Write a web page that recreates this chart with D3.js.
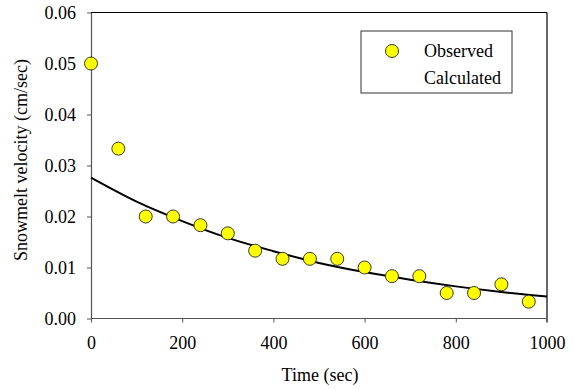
<!DOCTYPE html>
<html>
<head>
<meta charset="utf-8">
<script src="https://cdn.jsdelivr.net/npm/d3@7"></script>
<style>
  html, body { margin: 0; padding: 0; background: #fff; }
  svg text { font-family: "Liberation Serif", "Times New Roman", Times, serif !important; }
</style>
</head>
<body>
<svg id="chart" width="578" height="390"></svg>
<script>
// Observed snowmelt velocity (cm/sec) at each time step (sec)
const obsTime = [0, 60, 120, 180, 240, 300, 360, 420, 480, 540, 600, 660, 720, 780, 840, 900, 960];
const obsVelocity = [0.0500, 0.0333, 0.0200, 0.0200, 0.0183, 0.0167, 0.0133, 0.0117, 0.0117, 0.0117,
                     0.0100, 0.0083, 0.0083, 0.0050, 0.0050, 0.0067, 0.0033];

// Calculated velocity curve
const calcTime = [0, 100, 200, 300, 400, 500, 600, 700, 800, 900, 1000];
const calcVelocity = [0.0276, 0.0229, 0.0191, 0.0158, 0.0132, 0.0109, 0.0091, 0.0076, 0.0063, 0.0052, 0.0043];

const xTicks = [0, 200, 400, 600, 800, 1000];
const yTicks = [0.00, 0.01, 0.02, 0.03, 0.04, 0.05, 0.06];
const legendLabels = ["Observed", "Calculated"];

const svg = d3.select("#chart");
const plotL = 91, plotR = 547, plotT = 12.5, plotB = 318.5;

const x = d3.scaleLinear().domain([0, 1000]).range([plotL, plotR]);
const y = d3.scaleLinear().domain([0, 0.06]).range([plotB, plotT]);

// frame: top and right edges in black
svg.append("line").attr("x1", plotL).attr("x2", plotR).attr("y1", plotT).attr("y2", plotT)
  .attr("stroke", "#000").attr("stroke-width", 1.2);
svg.append("line").attr("x1", plotR).attr("x2", plotR).attr("y1", plotT).attr("y2", plotB + 4)
  .attr("stroke", "#000").attr("stroke-width", 1.2);

// axes
const xAxis = svg.append("g").attr("transform", `translate(0,${plotB})`)
  .call(d3.axisBottom(x).tickValues(xTicks).tickSize(4).tickSizeOuter(0).tickFormat(d3.format("d")));
const yAxis = svg.append("g").attr("transform", `translate(${plotL},0)`)
  .call(d3.axisLeft(y).tickValues(yTicks).tickSize(4).tickSizeOuter(0).tickFormat(d3.format(".2f")));

[xAxis, yAxis].forEach(g => {
  g.attr("font-family", null).attr("font-size", null);
  g.select(".domain").attr("stroke", "#555").attr("stroke-width", 1.2);
  g.selectAll(".tick line").attr("stroke", "#555").attr("stroke-width", 1);
  g.selectAll(".tick text").attr("fill", "#000").style("font-size", "18px");
});
xAxis.select(".domain").attr("d", `M${plotL},0H${plotR}`);
xAxis.selectAll(".tick text").attr("y", 0).attr("dy", null).attr("transform", "translate(0,30.5)");
yAxis.selectAll(".tick text").attr("x", -15).attr("dy", "0.33em");
xAxis.selectAll(".tick").filter(d => d === 1000).select("line").remove();

// calculated curve
const line = d3.line().x((d, i) => x(calcTime[i])).y(d => y(d)).curve(d3.curveMonotoneX);
svg.append("path").datum(calcVelocity).attr("d", line)
  .attr("fill", "none").attr("stroke", "#000").attr("stroke-width", 2);

// observed points
svg.append("g").selectAll("circle").data(obsVelocity).join("circle")
  .attr("cx", (d, i) => x(obsTime[i])).attr("cy", d => y(d)).attr("r", 6.5)
  .attr("fill", "#ffff00").attr("stroke", "#222").attr("stroke-width", 0.9);

// axis titles
svg.append("text").attr("x", 320).attr("y", 381).attr("text-anchor", "middle")
  .style("font-size", "18px").text("Time (sec)");
svg.append("text").attr("transform", "translate(27,160) rotate(-90)")
  .attr("text-anchor", "middle").style("font-size", "18px").text("Snowmelt velocity (cm/sec)");

// legend
const lg = svg.append("g");
lg.append("rect").attr("x", 361).attr("y", 31).attr("width", 151).attr("height", 62)
  .attr("fill", "#fff").attr("stroke", "#333").attr("stroke-width", 1);
lg.append("circle").attr("cx", 392).attr("cy", 51).attr("r", 6.5)
  .attr("fill", "#ffff00").attr("stroke", "#222").attr("stroke-width", 0.9);
lg.selectAll("text.lab").data(legendLabels).join("text").attr("class", "lab")
  .attr("x", 424).attr("y", (d, i) => 57 + i * 27).style("font-size", "18px").text(d => d);
</script>
</body>
</html>
